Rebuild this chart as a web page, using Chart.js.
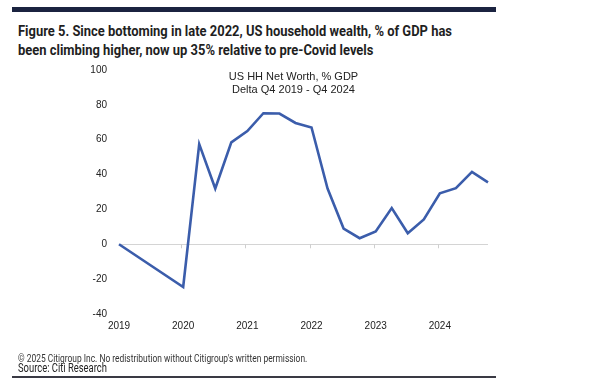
<!DOCTYPE html>
<html>
<head>
<meta charset="utf-8">
<script src="https://cdn.jsdelivr.net/npm/chart.js@4.4.1/dist/chart.umd.min.js"></script>
<style>
  html, body { margin: 0; padding: 0; background: #fff; }
  #wrap { position: relative; width: 602px; height: 392px; overflow: hidden; }
  #topbar { position: absolute; left: 12px; top: 7px; width: 484px; height: 5px; background: #1b2340; }
  #heading { position: absolute; left: 18px; top: 22px; font-family: Roboto, "Noto Sans", sans-serif; font-weight: 700;
    font-size: 15.5px; line-height: 19px; color: #1f1f1f; white-space: nowrap; transform-origin: 0 0; transform: scaleX(0.835); }
  #copy { position: absolute; left: 18px; top: 352px; font-family: Roboto, sans-serif; font-size: 11px; color: #333;
    white-space: nowrap; transform-origin: 0 0; transform: scaleX(0.765); }
  #source { position: absolute; left: 18px; top: 361px; font-family: Roboto, sans-serif; font-size: 12px; color: #222;
    white-space: nowrap; transform-origin: 0 0; transform: scaleX(0.785); }
  #botbar { position: absolute; left: 12px; top: 376px; width: 484px; height: 2px; background: #3a3a44; }
  #c { position: absolute; left: 0; top: 0; }
</style>
</head>
<body>
<div id="wrap">
  <div id="topbar"></div>
  <div id="heading">Figure 5. Since bottoming in late 2022, US household wealth, % of GDP has<br>been climbing higher, now up 35% relative to pre-Covid levels</div>
  <canvas id="c" width="602" height="392"></canvas>
  <div id="copy">© 2025 Citigroup Inc. No redistribution without Citigroup's written permission.</div>
  <div id="source">Source: Citi Research</div>
  <div id="botbar"></div>
</div>
<script>
// Quarterly categories (axis labelled by year at each Q1)
const quarters = [
  '2019 Q1','2019 Q2','2019 Q3','2019 Q4',
  '2020 Q1','2020 Q2','2020 Q3','2020 Q4',
  '2021 Q1','2021 Q2','2021 Q3','2021 Q4',
  '2022 Q1','2022 Q2','2022 Q3','2022 Q4',
  '2023 Q1','2023 Q2','2023 Q3','2023 Q4',
  '2024 Q1','2024 Q2','2024 Q3','2024 Q4'
];
// US HH Net Worth, % GDP, delta vs pre-Covid
const netWorthDelta = [
  0, null, null, null,
  -24.5, 57.5, 32, 58.5,
  65, 75.2, 75, 69.6,
  67, 32, 9, 3.5,
  7.3, 20.8, 6.3, 14.3,
  29.3, 32.2, 41.5, 35.5
];
const yTicks = [-40, -20, 0, 20, 40, 60, 80, 100];
const chartTitle = ['US HH Net Worth, % GDP', 'Delta Q4 2019 - Q4 2024'];

const innerTitle = {
  id: 'innerTitle',
  afterDraw(chart) {
    const { ctx, chartArea } = chart;
    ctx.save();
    ctx.font = '11px "Liberation Sans", Arial, sans-serif';
    ctx.fillStyle = '#222';
    ctx.textAlign = 'center';
    ctx.textBaseline = 'middle';
    const cx = (chartArea.left + chartArea.right) / 2 - 10;
    chartTitle.forEach((t, i) => ctx.fillText(t, cx, chartArea.top + 7 + i * 13));
    ctx.restore();
  }
};

const zeroTicks = {
  id: 'zeroTicks',
  beforeDatasetsDraw(chart) {
    const { ctx, scales } = chart;
    const y0 = scales.y.getPixelForValue(0);
    ctx.save();
    ctx.strokeStyle = '#cfcfcf';
    ctx.lineWidth = 1;
    quarters.forEach((q, i) => {
      if (q.endsWith('Q1') && i > 0) {
        const x = Math.round(scales.x.getPixelForValue(i) - 2) + 0.5;
        ctx.beginPath(); ctx.moveTo(x, y0); ctx.lineTo(x, y0 + 4); ctx.stroke();
      }
    });
    ctx.restore();
  }
};

new Chart(document.getElementById('c'), {
  type: 'line',
  data: {
    labels: quarters,
    datasets: [{
      data: netWorthDelta,
      borderColor: '#3b5dab',
      borderWidth: 2.6,
      pointRadius: 0,
      tension: 0,
      spanGaps: true,
      fill: false
    }]
  },
  options: {
    responsive: false,
    animation: false,
    layout: { padding: { left: 0, right: 114, top: 70, bottom: 0 } },
    plugins: { legend: { display: false }, tooltip: { enabled: false }, title: { display: false } },
    scales: {
      x: {
        offset: false,
        border: { display: false },
        grid: { display: false, drawTicks: false },
        ticks: {
          autoSkip: false, maxRotation: 0, minRotation: 0, padding: 6,
          color: '#222', font: { family: '"Liberation Sans", Arial, sans-serif', size: 10 },
          callback: function (v, i) { const q = quarters[i]; return q.endsWith('Q1') ? q.slice(0, 4) : ''; }
        },
        afterFit(s) { s.height = 78; }
      },
      y: {
        min: -40, max: 100,
        border: { display: false },
        grid: {
          drawTicks: false,
          color: (c) => (c.tick && c.tick.value === 0 ? '#d4d4d4' : 'rgba(0,0,0,0)'),
          lineWidth: 1
        },
        afterBuildTicks(s) { s.ticks = yTicks.map(v => ({ value: v })); },
        ticks: {
          padding: 12, color: '#222',
          font: { family: '"Liberation Sans", Arial, sans-serif', size: 10 }
        },
        afterFit(s) { s.width = 119; }
      }
    }
  },
  plugins: [innerTitle, zeroTicks]
});
</script>
</body>
</html>
